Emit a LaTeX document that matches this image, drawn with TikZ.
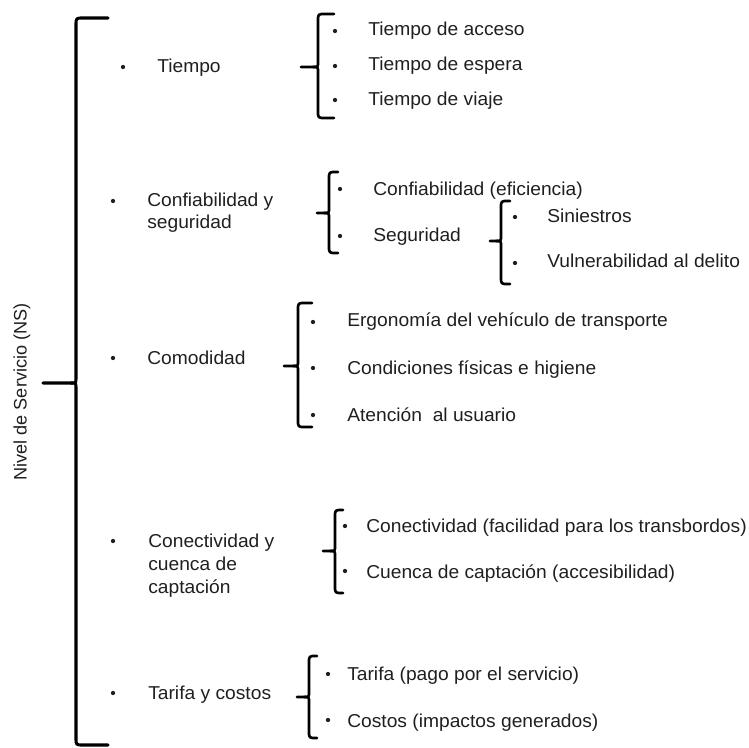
\documentclass[tikz,border=0pt]{standalone}
\usepackage{fontspec}
\setmainfont[FakeStretch=1.03]{Liberation Sans}
\newfontfamily\plainfont{Liberation Sans}
\newcommand{\mybrc}[7][]{%
 \draw[brc,#1] (#7,#3) -- ({#2+7},#3) .. controls (#2,#3) .. (#2,{#3+7}) -- (#2,{#5-5}) .. controls (#2,#5) .. ({#2-5},#5) -- (#6,#5);
 \draw[brc,#1] ({#2-5},#5) .. controls (#2,#5) .. (#2,{#5+5}) -- (#2,{#4-7}) .. controls (#2,#4) .. ({#2+7},#4) -- (#7,#4);
}
\tikzset{
 lbl/.style={anchor=base west, inner sep=0, font=\fontsize{14}{17}\selectfont, text=black!88},
 bul/.style={circle, fill=black!88, inner sep=0, minimum size=3.2pt},
 brc/.style={line width=2pt, line join=round, line cap=round, draw=black}
}
\begin{document}
\begin{tikzpicture}[x=0.75pt,y=-0.75pt]
\useasboundingbox (0,0) rectangle (749,748);
% root label
\node[inner sep=0, font=\plainfont\fontsize{13.6}{17}\selectfont, text=black!88, rotate=90] (ns) at (22,392) {Nivel de Servicio (NS)};
% braces: [opts]{xv}{top}{bottom}{mid}{tip}{right}
\mybrc[line width=2.3pt]{76}{18}{745}{383}{43}{108}
\mybrc{318}{14}{118}{67}{301}{334}
\mybrc{329}{172}{253}{213}{317}{338}
\mybrc{501}{201}{284}{241}{490}{510}
\mybrc{298}{303}{427}{366}{284}{312}
\mybrc{335}{510}{593}{551}{323}{343}
\mybrc{309}{656}{738}{697}{297}{317}
% level 1
\node[bul] (b1) at (123,67) {};
\node[lbl] (t1) at (157,73) {Tiempo};
\node[bul] (b2) at (113,201) {};
\node[lbl] (t2a) at (147,207) {Confiabilidad y};
\node[lbl] (t2b) at (147,229) {seguridad};
\node[bul] (b3) at (113,358) {};
\node[lbl] (t3) at (147,364) {Comodidad};
\node[bul] (b4) at (113,541) {};
\node[lbl] (t4a) at (148,547) {Conectividad y};
\node[lbl] (t4b) at (148,570) {cuenca de};
\node[lbl] (t4c) at (148,593) {captación};
\node[bul] (b5) at (113,693) {};
\node[lbl] (t5) at (148,699) {Tarifa y costos};
% Tiempo
\node[bul] (b11) at (335,31) {};
\node[lbl] (t11) at (368,36) {Tiempo de acceso};
\node[bul] (b12) at (335,66) {};
\node[lbl] (t12) at (368,71) {Tiempo de espera};
\node[bul] (b13) at (335,100) {};
\node[lbl] (t13) at (368,106) {Tiempo de viaje};
% Confiabilidad
\node[bul] (b21) at (340,189) {};
\node[lbl] (t21) at (373,196) {Confiabilidad (eficiencia)};
\node[bul] (b22) at (340,236) {};
\node[lbl] (t22) at (373,242) {Seguridad};
\node[bul] (b221) at (515,217) {};
\node[lbl] (t221) at (547,223) {Siniestros};
\node[bul] (b222) at (515,263) {};
\node[lbl] (t222) at (547,268) {Vulnerabilidad al delito};
% Comodidad
\node[bul] (b31) at (313,322) {};
\node[lbl] (t31) at (347,327) {Ergonomía del vehículo de transporte};
\node[bul] (b32) at (313,368) {};
\node[lbl] (t32) at (347,374) {Condiciones físicas e higiene};
\node[bul] (b33) at (313,415) {};
\node[lbl] (t33) at (347,421) {Atención\ \ al usuario};
% Conectividad
\node[bul] (b41) at (345,526) {};
\node[lbl] (t41) at (366,532) {Conectividad (facilidad para los transbordos)};
\node[bul] (b42) at (345,571) {};
\node[lbl] (t42) at (366,578) {Cuenca de captación (accesibilidad)};
% Tarifa
\node[bul] (b51) at (328,674) {};
\node[lbl] (t51) at (347,680) {Tarifa (pago por el servicio)};
\node[bul] (b52) at (328,720) {};
\node[lbl] (t52) at (347,727) {Costos (impactos generados)};
\end{tikzpicture}
\end{document}
